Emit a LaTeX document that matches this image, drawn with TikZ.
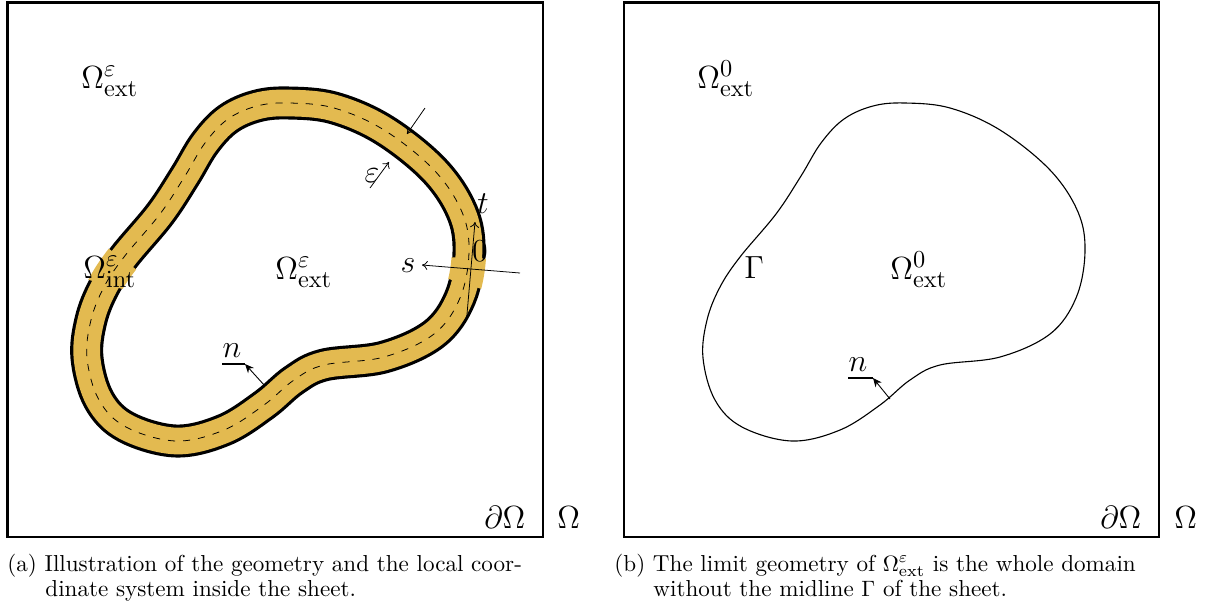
\documentclass[tikz,border=0pt]{standalone}
\usepackage{amsmath}
\usetikzlibrary{arrows.meta}
\definecolor{bandcol}{RGB}{227,186,80}
\tikzset{
  lab/.style={font=\fontsize{15.5}{18}\selectfont, inner sep=0pt, anchor=base west},
  captext/.style={font=\fontsize{10.4}{12}\selectfont, inner sep=0pt, anchor=base west},
  frame/.style={line width=1.3pt},
  thinarrow/.style={line width=0.35pt, -{To[length=2.5pt,width=4pt]}},
  narrow/.style={line width=0.4pt, -{Stealth[length=4pt,width=3.5pt]}},
  nbar/.style={line width=1.2pt},
  midline/.style={insert path={plot[smooth cycle, tension=0.6] coordinates {(289,103) (334,108) (384,130) (434,170) (462,212) (469,252) (460,298) (434,334) (384,357) (324,365) (294,380) (264,405) (224,430) (176,441) (126,427) (99,400) (87,358) (91,320) (104,287) (124,257) (160,214) (185,176) (205,143) (228,119) (257,106)}}},
}
\begin{document}
\begin{tikzpicture}[x=0.45pt,y=-0.45pt]
\useasboundingbox (0,0) rectangle (1211,607);
% ---------- left panel ----------
\draw[frame] (7.5,2.5) rectangle (543,537);
\draw[line width=14.85pt, line join=round] [midline];
\draw[bandcol, line width=12.0pt, line join=round] [midline];
\begin{scope}
  \clip (100,242) -- (141,273) -- (130,291) -- (78,277) -- cycle;
  \draw[bandcol, line width=15.5pt] [midline];
\end{scope}
\begin{scope}
  \clip (445,257) -- (497,259) -- (495,293) -- (442,277) -- cycle;
  \draw[bandcol, line width=15.5pt] [midline];
\end{scope}
\draw[line width=0.35pt, dash pattern=on 3.2pt off 3.6pt] [midline];
% local coordinate system
\coordinate (s0) at (520,273);
\coordinate (s1) at (422,265);
\coordinate (t0) at (466.5,320);
\coordinate (t1) at (475,222);
\draw[thinarrow] (s0) -- (s1);
\draw[thinarrow] (t0) -- (t1);
\coordinate (e0) at (425,108);
\coordinate (e1) at (407,134);
\coordinate (e2) at (370,188);
\coordinate (e3) at (389,162);
\draw[thinarrow] (e0) -- (e1);
\draw[thinarrow] (e2) -- (e3);
\node[lab, anchor=center] (lt) at (483,204) {$t$};
\node[lab, anchor=center] (lzero) at (480,251) {$0$};
\node[lab, anchor=center] (ls) at (408,266) {$s$};
\node[lab, anchor=center] (leps) at (372,176) {$\varepsilon$};
% normal
\coordinate (n0) at (265,386);
\coordinate (n1) at (245,364);
\coordinate (nb) at (222,364);
\draw[nbar] (nb) -- (n1);
\draw[narrow] (n0) -- (n1);
\node[lab, anchor=center] (ln) at (232,351) {$n$};
% labels
\node[lab] (oext1) at (81,88) {$\Omega^{\varepsilon}_{\mathrm{ext}}$};
\node[lab] (oint) at (83,278) {$\Omega^{\varepsilon}_{\mathrm{int}}$};
\node[lab] (oext2) at (275,279) {$\Omega^{\varepsilon}_{\mathrm{ext}}$};
\node[lab] (dO1) at (484,528) {$\partial\Omega$};
\node[lab] (O1) at (557,528) {$\Omega$};
% ---------- right panel ----------
\draw[frame] (624,2.5) rectangle (1159,537);
\begin{scope}[shift={(616,0)}]
  \draw[line width=0.5pt] [midline];
  \coordinate (m0) at (274,399);
  \coordinate (m1) at (257,378);
  \coordinate (mb) at (232,378);
  \draw[nbar] (mb) -- (m1);
  \draw[narrow] (m0) -- (m1);
  \node[lab, anchor=center] (rn) at (242,365) {$n$};
\end{scope}
\node[lab] (r0ext1) at (697,88) {$\Omega^{0}_{\mathrm{ext}}$};
\node[lab] (rgam) at (744,278) {$\Gamma$};
\node[lab] (r0ext2) at (890,279) {$\Omega^{0}_{\mathrm{ext}}$};
\node[lab] (dO2) at (1100,528) {$\partial\Omega$};
\node[lab] (O2) at (1174,528) {$\Omega$};
% ---------- captions ----------
\node[captext] (ca1) at (7,571) {(a) Illustration of the geometry and the local coor-};
\node[captext] (ca2) at (45,596) {dinate system inside the sheet.};
\node[captext] (cb1) at (614,571) {(b) The limit geometry of $\Omega^{\varepsilon}_{\text{ext}}$ is the whole domain};
\node[captext] (cb2) at (653,596) {without the midline $\Gamma$ of the sheet.};
\end{tikzpicture}
\end{document}
